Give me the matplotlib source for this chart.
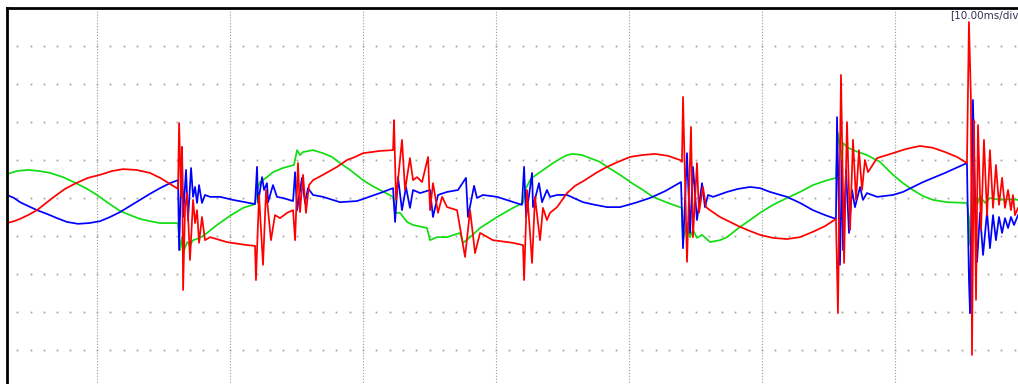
import numpy as np
import matplotlib
matplotlib.use("Agg")
import matplotlib.pyplot as plt

# time in ms, amplitude in divisions (scope screen, 10 ms/div)
t_red = [3.23, 3.76, 4.21, 4.81, 5.49, 6.17, 6.84, 7.59, 8.42, 9.32, 10.23, 11.13, 11.95, 12.93, 13.98, 14.74, 15.26, 15.71, 16.09,
         16.17, 16.32, 16.39, 16.47, 16.62, 16.77, 16.99, 17.22, 17.37, 17.52, 17.67, 17.89, 18.12, 18.50, 19.77, 21.28, 21.88,
         21.95, 22.18, 22.48, 22.71, 23.08, 23.38, 23.76, 24.29, 24.74,
         24.89, 25.11, 25.26, 25.49, 25.71, 25.94, 26.24, 26.99, 28.05, 28.80, 29.40, 30.00, 30.68, 31.28, 32.26,
         32.33, 32.48, 32.93, 33.16, 33.53, 33.76, 34.06, 34.44, 34.89, 35.04, 35.26, 35.64, 35.94, 36.32, 37.07, 37.67,
         38.05, 38.42, 38.80, 39.77, 41.28, 42.03,
         42.11, 42.33, 42.71, 42.93, 43.31, 43.53, 43.83, 44.06, 44.59, 45.34, 45.94, 46.69, 47.52, 48.35, 49.17, 50.08,
         50.98, 51.95, 52.93, 53.83, 53.98,
         54.06, 54.36, 54.66, 54.81, 55.11, 55.26, 55.56, 55.79, 56.09, 56.84, 57.59, 58.35, 59.10, 59.85, 60.83, 61.88,
         62.86, 63.83, 64.74, 65.56,
         65.71, 65.94, 66.17, 66.39, 66.62, 66.84, 67.07, 67.29, 67.52, 67.74, 67.97, 68.65, 69.85, 70.83, 71.88, 72.86,
         73.76, 74.66, 75.41,
         75.56, 75.71, 75.79, 75.94, 76.09, 76.24, 76.47, 76.69, 76.92, 77.14, 77.37, 77.59, 77.82, 78.05, 78.27, 78.50,
         78.72, 78.87, 79.02, 79.25]
v_red = [-0.66, -0.61, -0.55, -0.45, -0.32, -0.13, 0.05, 0.24, 0.39, 0.53, 0.61, 0.71, 0.76, 0.74, 0.66, 0.53, 0.42, 0.32, 0.24,
         1.97, 0.03, 1.34, -2.42, -0.24, 0.13, -1.63, -0.05, -0.66, -0.32, -1.18, -0.50, -1.11, -1.03, -1.16, -1.24, -1.26,
         -2.16, 0.08, -1.76, 0.21, -1.11, -0.45, -0.53, -0.39, -0.32,
         -1.11, 0.92, -0.37, 0.61, -0.39, 0.34, 0.47, 0.61, 0.82, 1.00, 1.08, 1.18, 1.21, 1.24, 1.26,
         2.05, -0.05, 1.53, 0.21, 1.05, 0.47, 0.55, 0.42, 1.08, -0.32, 0.39, -0.39, 0.03, -0.24, -0.32, -1.55,
         -0.32, -1.45, -0.92, -1.11, -1.18, -1.24,
         -2.16, 0.21, -1.71, 0.03, -1.11, -0.26, -0.58, -0.39, -0.24, 0.13, 0.32, 0.47, 0.66, 0.82, 0.95, 1.08,
         1.13, 1.16, 1.11, 1.00, 0.95,
         2.66, -1.68, 1.87, -1.03, 0.92, -0.39, 0.29, -0.24, -0.32, -0.50, -0.63, -0.76, -0.87, -0.97, -1.05, -1.08,
         -1.03, -0.89, -0.74, -0.55,
         -3.03, 3.24, -1.71, 2.00, -0.84, 1.53, -0.05, 1.26, 0.21, 1.00, 0.68, 1.05, 1.18, 1.29, 1.37, 1.32,
         1.21, 1.08, 0.92,
         4.63, 2.58, -4.13, 2.05, -2.68, 1.92, -0.84, 1.53, -0.45, 1.26, -0.26, 0.87, -0.18, 0.53, -0.26, 0.21,
         -0.32, 0.08, -0.45, -0.26]

t_blue = [3.23, 3.76, 4.21, 4.81, 5.49, 6.24, 6.99, 7.74, 8.57, 9.40, 10.23, 10.98, 11.73, 12.48, 13.23, 13.98, 14.74, 15.49, 16.09,
          16.17, 16.39, 16.47, 16.69, 16.84, 17.07, 17.22, 17.37, 17.52, 17.67, 17.89, 18.12, 18.50, 19.25, 20.23, 21.88,
          22.03, 22.11, 22.41, 22.56, 22.78, 22.86, 23.23, 23.53, 23.98, 24.74,
          24.89, 25.04, 25.41, 25.64, 25.86, 26.24, 26.99, 28.27, 29.55, 31.28, 32.26,
          32.41, 32.63, 32.93, 33.23, 33.53, 33.76, 34.29, 35.04, 35.26, 35.64, 36.32, 37.14, 37.74, 37.89, 38.35, 38.57,
          39.02, 40.08, 41.95,
          42.11, 42.26, 42.71, 42.78, 43.23, 43.46, 43.83, 44.06, 44.59, 45.34, 46.54, 47.44, 48.35, 49.32, 50.45, 51.58,
          52.71, 53.91,
          54.06, 54.36, 54.59, 54.81, 55.11, 55.49, 55.71, 55.94, 56.32, 57.37, 58.20, 59.10, 59.85, 60.60, 61.88, 62.86,
          63.83, 64.74, 65.56,
          65.64, 65.86, 66.02, 66.09, 66.32, 66.54, 66.77, 66.99, 67.37, 67.59, 67.89, 68.65, 69.85, 70.60, 71.35, 72.11,
          72.86, 73.76, 74.59, 75.41,
          75.56, 75.64, 75.71, 75.86, 76.02, 76.17, 76.39, 76.62, 76.92, 77.14, 77.37, 77.59, 77.82, 78.05, 78.27, 78.50,
          78.72, 78.95, 79.25]
v_blue = [0.08, 0.00, -0.11, -0.21, -0.32, -0.42, -0.53, -0.63, -0.68, -0.66, -0.61, -0.50, -0.37, -0.21, -0.05, 0.11, 0.26, 0.39, 0.47,
          -1.37, 1.34, -0.50, 0.74, -0.58, 0.79, 0.03, 0.29, -0.13, 0.34, -0.13, 0.08, 0.03, 0.03, -0.05, -0.16,
          0.82, -0.13, 0.55, 0.21, 0.39, -0.11, 0.34, 0.03, 0.00, -0.08,
          0.68, -0.32, 0.53, -0.13, 0.26, 0.08, 0.03, -0.11, -0.08, 0.13, 0.26,
          -0.63, 0.55, -0.32, 0.29, -0.26, 0.21, 0.13, 0.21, -0.50, 0.08, 0.16, 0.21, 0.53, -0.50, 0.32, 0.00,
          0.08, 0.03, -0.18,
          0.82, -0.50, 0.66, -0.24, 0.39, -0.11, 0.21, 0.03, 0.08, 0.08, -0.11, -0.18, -0.24, -0.24, -0.13, 0.00,
          0.18, 0.42,
          -1.32, 1.18, -0.92, 0.82, -0.58, 0.39, -0.24, 0.08, 0.03, 0.16, 0.24, 0.29, 0.26, 0.16, 0.03, -0.13,
          -0.32, -0.45, -0.55,
          2.13, -1.76, 1.00, -1.37, 0.74, -0.92, 0.21, -0.24, 0.29, -0.05, 0.13, 0.03, 0.08, 0.16, 0.29, 0.42,
          0.53, 0.66, 0.79, 0.92,
          -2.16, -3.03, -1.11, 2.58, -0.05, -1.68, -0.39, -1.50, -0.37, -1.32, -0.45, -1.11, -0.50, -0.92, -0.53, -0.79,
          -0.50, -0.71, -0.45]

t_green = [3.23, 3.98, 4.81, 5.64, 6.47, 7.44, 8.42, 9.25, 10.00, 10.83, 11.73, 12.48, 13.23, 13.98, 14.74, 15.49, 16.09,
           16.24, 16.39, 16.47, 16.77, 16.99, 17.22, 17.74, 18.27, 19.02, 20.00, 20.98, 21.88,
           22.03, 22.26, 22.78, 23.23, 23.98, 24.81,
           25.04, 25.26, 25.49, 26.24, 26.99, 27.67, 28.27, 29.02, 30.00, 30.68, 31.28, 32.26,
           32.41, 32.78, 33.31, 33.76, 34.81, 35.04, 35.56, 36.32, 37.29, 37.52, 38.05, 38.80, 40.08, 41.28, 42.03,
           42.18, 42.56, 42.78, 43.31, 44.29, 44.81, 45.34, 45.79, 46.47, 47.07, 47.82, 48.35, 49.32, 50.23, 51.05, 51.80,
           52.93, 53.98,
           54.06, 54.36, 54.59, 54.81, 55.11, 55.49, 56.09, 56.84, 57.37, 58.35, 59.10, 59.85, 60.83, 61.88, 62.86, 63.83,
           64.74, 65.56,
           65.71, 66.02, 66.09, 66.39, 66.84, 67.89, 68.87, 69.85, 70.60, 71.35, 72.11, 72.86, 73.91, 75.41,
           75.56, 75.64, 75.79, 75.94, 76.17, 76.39, 76.77, 77.14, 77.89, 78.65, 79.25]
v_green = [0.63, 0.71, 0.74, 0.71, 0.66, 0.55, 0.39, 0.24, 0.08, -0.13, -0.34, -0.45, -0.55, -0.61, -0.66, -0.66, -0.66,
           -1.37, -1.03, -1.45, -1.16, -1.24, -1.11, -1.05, -0.92, -0.71, -0.47, -0.26, -0.16,
           0.21, 0.42, 0.55, 0.68, 0.79, 0.87,
           1.26, 1.13, 1.21, 1.26, 1.18, 1.08, 0.92, 0.74, 0.47, 0.32, 0.21, 0.03,
           -0.39, -0.39, -0.63, -0.71, -0.79, -1.11, -1.03, -1.03, -0.92, -1.18, -1.03, -0.79, -0.50, -0.26, -0.13,
           0.21, 0.47, 0.55, 0.68, 0.92, 1.03, 1.13, 1.16, 1.13, 1.05, 0.95, 0.82, 0.61, 0.39, 0.21, 0.03,
           -0.13, -0.26,
           -1.11, -0.66, -1.03, -0.84, -1.05, -0.97, -1.16, -1.11, -1.03, -0.76, -0.58, -0.39, -0.18, 0.00, 0.16, 0.34,
           0.45, 0.53,
           1.71, 1.00, 1.45, 1.34, 1.26, 1.13, 0.95, 0.61, 0.39, 0.21, 0.05, -0.05, -0.11, -0.13,
           -0.53, -1.24, -0.71, 0.29, -0.18, 0.05, -0.13, 0.00, -0.05, -0.03, -0.05]

t_left, t_right = 3.23, 80.0
div_ms = 10

fig = plt.figure(figsize=(10.18, 3.84), dpi=100)
# screen area runs past the right and bottom edge of the capture
ax = fig.add_axes([7 / 1018, -4 / 384, 1021 / 1018, 380 / 384])
ax.set_xlim(t_left, t_right)
ax.set_ylim(-5, 5)

# scope graticule
ax.vlines(np.arange(10, 80, div_ms), -5, 5, colors="#9a9a9a",
          linestyles=(0, (1, 1.6)), lw=0.8, zorder=0)
gx, gy = np.meshgrid(np.arange(4, 80), np.arange(-4, 5))
ax.plot(gx.ravel(), gy.ravel(), "s", ms=1.3, color="#a8a8a8", mec="none", zorder=0)

ax.plot(t_green, v_green, color="#11dd11", lw=1.25)
ax.plot(t_blue, v_blue, color="#0000ff", lw=1.25)
ax.plot(t_red, v_red, color="#ff0000", lw=1.25)

for s in ["left", "top"]:
    ax.spines[s].set_linewidth(2)
ax.set_xticks([])
ax.set_yticks([])

fig.text(950 / 1018, 1 - 15 / 384, "[10.00ms/div", fontsize=7.5, color="#333355",
         ha="left", va="center")

fig.savefig("out.png", dpi=100)
